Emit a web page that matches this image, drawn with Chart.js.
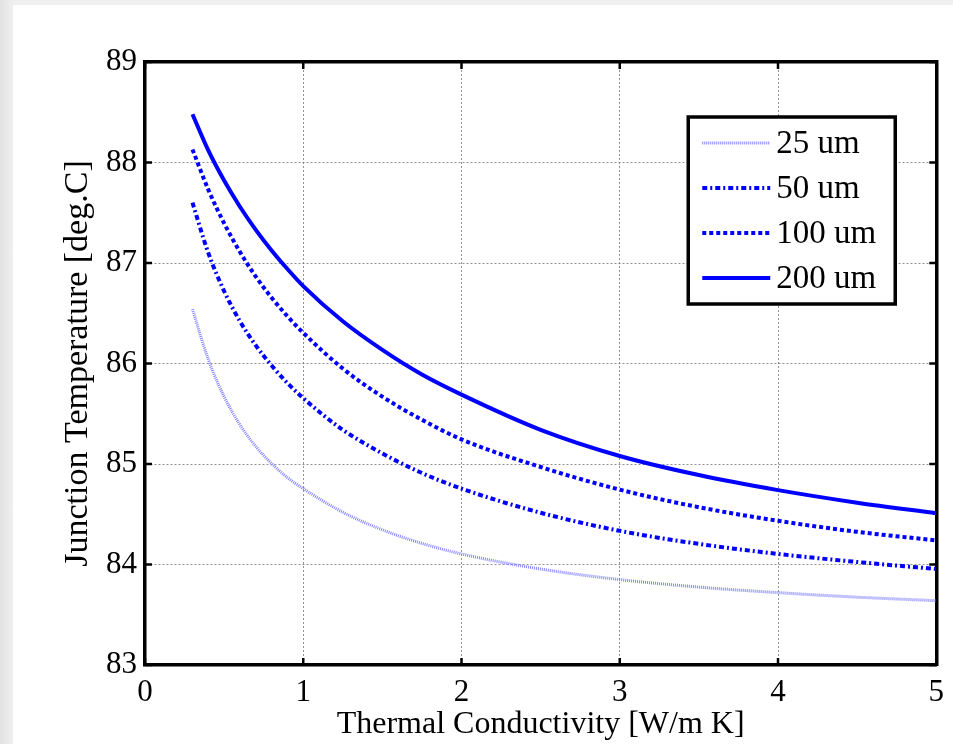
<!DOCTYPE html>
<html>
<head>
<meta charset="utf-8">
<script src="https://cdn.jsdelivr.net/npm/chart.js@4/dist/chart.umd.min.js"></script>
<style>
  html, body { margin: 0; padding: 0; }
  body { width: 953px; height: 744px; background: linear-gradient(to right, #e2e2e2, #f0f0f0 13px); position: relative; overflow: hidden; }
  #panel { position: absolute; left: 13px; top: 5px; right: 0; bottom: 0; background: #fff; }
  #wrap { position: absolute; left: 0; top: 0; width: 953px; height: 744px; }
</style>
</head>
<body>
<div id="panel"></div>
<div id="wrap"><canvas id="myChart"></canvas></div>
<script>
// thermal conductivity values [W/m K]
var conductivity = [0.3, 0.4, 0.5, 0.6, 0.7, 0.8, 0.9, 1, 1.25, 1.5, 1.75, 2, 2.5, 3, 3.5, 4, 4.5, 5];
// junction temperature [deg.C] for each layer thickness
var temp25  = [86.54, 86.04, 85.67, 85.39, 85.175, 85.005, 84.865, 84.755, 84.52, 84.345, 84.21, 84.105, 83.955, 83.85, 83.775, 83.72, 83.675, 83.64];
var temp50  = [87.60, 87.10, 86.72, 86.42, 86.18, 85.98, 85.805, 85.655, 85.34, 85.105, 84.91, 84.755, 84.515, 84.335, 84.205, 84.105, 84.025, 83.955];
var temp100 = [88.13, 87.73, 87.395, 87.11, 86.865, 86.655, 86.47, 86.305, 85.95, 85.67, 85.44, 85.245, 84.97, 84.745, 84.57, 84.435, 84.325, 84.24];
var temp200 = [88.48, 88.12, 87.82, 87.56, 87.33, 87.125, 86.94, 86.77, 86.42, 86.135, 85.89, 85.69, 85.34, 85.08, 84.89, 84.74, 84.615, 84.51];
var seriesLabels = ['25 um', '50 um', '100 um', '200 um'];
var xTicks = [0, 1, 2, 3, 4, 5];
var yTicks = [83, 84, 85, 86, 87, 88, 89];

function pts(ys) {
  return conductivity.map(function (x, i) { return {x: x, y: ys[i]}; });
}

var serif = '"Liberation Serif", "Times New Roman", serif';

// MATLAB-like inward tick marks on all four sides
var innerTicks = {
  id: 'innerTicks',
  afterDraw: function (chart) {
    var c = chart.ctx, a = chart.chartArea, sx = chart.scales.x, sy = chart.scales.y, len = 7;
    c.save();
    c.strokeStyle = '#000';
    c.lineWidth = 2.5;
    c.beginPath();
    xTicks.forEach(function (v) {
      var px = sx.getPixelForValue(v);
      c.moveTo(px, a.bottom); c.lineTo(px, a.bottom - len);
      c.moveTo(px, a.top); c.lineTo(px, a.top + len);
    });
    yTicks.forEach(function (v) {
      var py = sy.getPixelForValue(v);
      c.moveTo(a.left, py); c.lineTo(a.left + len, py);
      c.moveTo(a.right, py); c.lineTo(a.right - len, py);
    });
    c.stroke();
    c.restore();
  }
};

// boxed legend in the upper right of the plot
var boxLegend = {
  id: 'boxLegend',
  afterDraw: function (chart) {
    var c = chart.ctx, a = chart.chartArea;
    var bx = a.right - 248, by = a.top + 55, bw = 207, bh = 187;
    c.save();
    c.fillStyle = '#fff';
    c.fillRect(bx, by, bw, bh);
    c.strokeStyle = '#000';
    c.lineWidth = 3.5;
    c.strokeRect(bx, by, bw, bh);
    chart.data.datasets.forEach(function (ds, i) {
      var yy = by + 26 + i * 45;
      c.save();
      c.strokeStyle = ds.borderColor;
      c.lineWidth = ds.borderWidth;
      c.setLineDash(ds.borderDash || []);
      c.beginPath();
      c.moveTo(bx + 14, yy);
      c.lineTo(bx + 82, yy);
      c.stroke();
      c.restore();
      c.fillStyle = '#000';
      c.font = '33px ' + serif;
      c.textBaseline = 'middle';
      c.fillText(ds.label, bx + 88, yy + 1);
    });
    c.restore();
  }
};

var ctx = document.getElementById('myChart').getContext('2d');
var myChart = new Chart(ctx, {
  type: 'line',
  data: {
    datasets: [{
        data: pts(temp25),
        label: seriesLabels[0],
        borderColor: '#8585ff',
        borderWidth: 3,
        borderDash: [1, 1],
      }, {
        data: pts(temp50),
        label: seriesLabels[1],
        borderColor: '#0000ff',
        borderWidth: 4,
        borderDash: [5, 3, 2, 3],
      }, {
        data: pts(temp100),
        label: seriesLabels[2],
        borderColor: '#0000ff',
        borderWidth: 4,
        borderDash: [4, 3],
      }, {
        data: pts(temp200),
        label: seriesLabels[3],
        borderColor: '#0000ff',
        borderWidth: 4,
      },
    ]
  },
  options: {
    responsive: true,
    maintainAspectRatio: false,
    animation: false,
    layout: { padding: { left: 0, top: 62, right: 16, bottom: 0 } },
    elements: {
      point: { radius: 0 },
      line: { tension: 0.4, cubicInterpolationMode: 'monotone', fill: false }
    },
    plugins: {
      legend: { display: false },
      tooltip: { enabled: false }
    },
    scales: {
      x: {
        type: 'linear',
        position: 'bottom',
        min: 0, max: 5,
        afterBuildTicks: function (s) { s.ticks = xTicks.map(function (v) { return {value: v}; }); },
        afterFit: function (s) { s.height = 79; },
        grid: { color: 'rgba(110,110,110,0.75)', lineWidth: 1, drawTicks: false },
        border: { display: true, color: '#000', width: 3.5, dash: [2, 2] },
        ticks: { color: '#000', padding: 9, font: { family: serif, size: 31 } },
        title: {
          display: true,
          text: 'Thermal Conductivity [W/m K]',
          color: '#000',
          font: { family: serif, size: 32 },
          padding: { top: 0, bottom: 0 }
        }
      },
      y: {
        type: 'linear',
        position: 'left',
        min: 83, max: 89,
        afterBuildTicks: function (s) { s.ticks = yTicks.map(function (v) { return {value: v}; }); },
        afterFit: function (s) { s.width = 145; },
        grid: { color: 'rgba(110,110,110,0.75)', lineWidth: 1, drawTicks: false },
        border: { display: true, color: '#000', width: 3.5, dash: [2, 2] },
        ticks: { color: '#000', padding: 8, font: { family: serif, size: 31 } },
        title: {
          display: true,
          text: 'Junction Temperature [deg.C]',
          color: '#000',
          font: { family: serif, size: 34 },
          padding: { top: 58, bottom: 0 }
        }
      },
      x2: {
        type: 'linear',
        position: 'top',
        min: 0, max: 5,
        afterFit: function (s) { s.height = 0; },
        grid: { display: false },
        border: { display: true, color: '#000', width: 3.5 },
        ticks: { display: false }
      },
      y2: {
        type: 'linear',
        position: 'right',
        min: 83, max: 89,
        afterFit: function (s) { s.width = 0; },
        grid: { display: false },
        border: { display: true, color: '#000', width: 3.5 },
        ticks: { display: false }
      }
    }
  },
  plugins: [innerTicks, boxLegend]
});
</script>
</body>
</html>
